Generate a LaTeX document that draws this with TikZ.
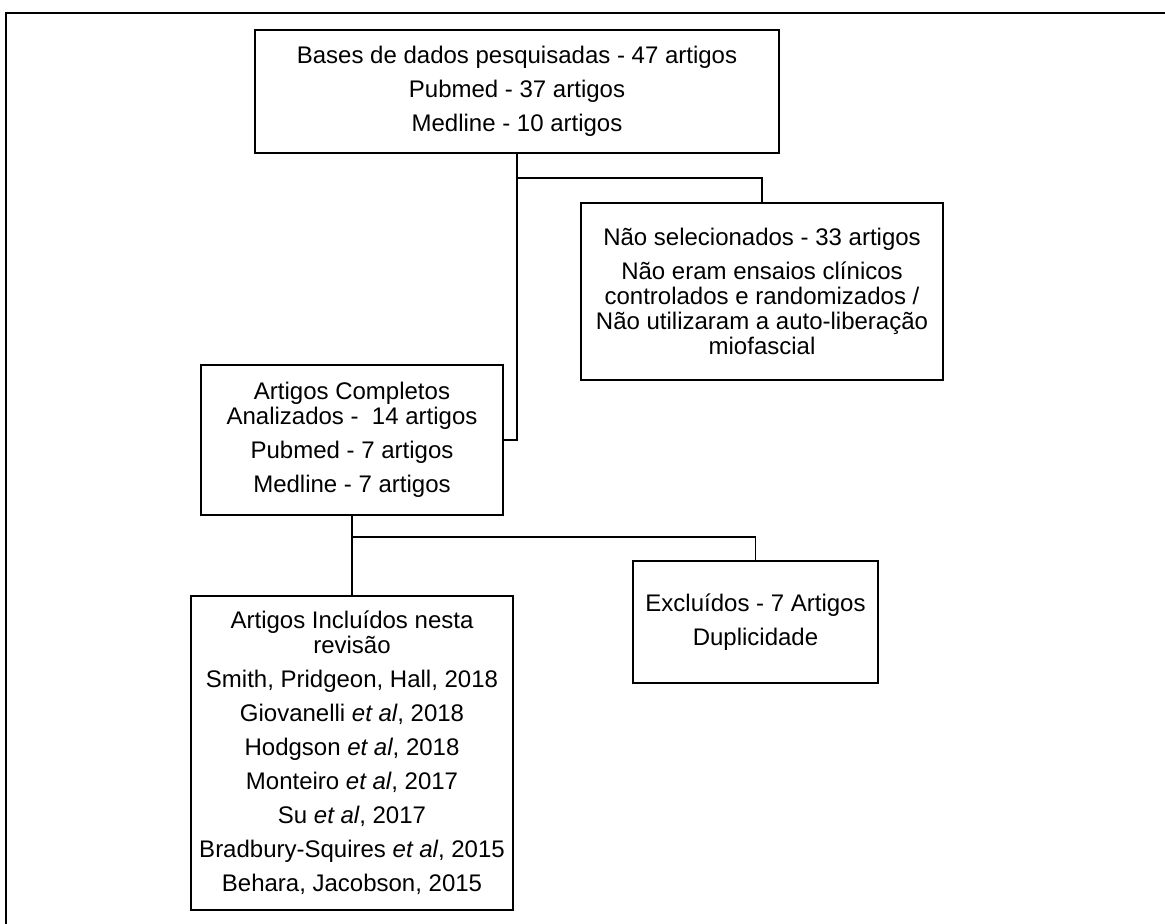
\documentclass[tikz,border=0pt]{standalone}
\usepackage{fontspec}
\setmainfont{Liberation Sans}
\usepackage{tikz}
\usetikzlibrary{positioning}

\begin{document}
\begin{tikzpicture} [
      x = 0.5pt, y = -0.5pt,
      line width = 0.8pt,
      every node/.style = { draw, rectangle, inner sep = 0, align = center, font = \fontsize{12}{12.5}\selectfont }
      ]
      \useasboundingbox (0,0) rectangle (1165,924);
      \draw [line width = 0.6pt] (1165,13) -- (6,13) -- (6,924);

      \node [minimum width = 262pt, minimum height = 61.5pt] (bases) at (517,91.5)
        {Bases de dados pesquisadas - 47 artigos\\[4.5pt] Pubmed - 37 artigos\\[4.5pt] Medline - 10 artigos};
      \node [minimum width = 181pt, minimum height = 88.5pt] (naosel) at (762,291.5)
        {Não selecionados - 33 artigos\\[4.5pt] Não eram ensaios clínicos\\ controlados e randomizados /\\ Não utilizaram a auto-liberação\\ miofascial};
      \node [minimum width = 151pt, minimum height = 75pt] (completos) at (352,440)
        {Artigos Completos\\ Analizados - \ 14 artigos\\[4.5pt] Pubmed - 7 artigos\\[4.5pt] Medline - 7 artigos};
      \node [minimum width = 161pt, minimum height = 157pt] (incluidos) at (352,753)
        {Artigos Incluídos nesta\\ revisão\\[4.5pt] Smith, Pridgeon, Hall, 2018\\[4.5pt] Giovanelli \textit{et al}, 2018\\[4.5pt] Hodgson \textit{et al}, 2018\\[4.5pt] Monteiro \textit{et al}, 2017\\[4.5pt] Su \textit{et al}, 2017\\[4.5pt] Bradbury-Squires \textit{et al}, 2015\\[4.5pt] Behara, Jacobson, 2015};
      \node [minimum width = 122.5pt, minimum height = 61pt] (excluidos) at (755.5,622)
        {Excluídos - 7 Artigos\\[4.5pt] Duplicidade};

      \draw (bases.south) |- (completos.east);
      \draw (bases.south) -- ++(0,24) -| (naosel.north);
      \draw (completos.south) -- (incluidos.north);
      \draw (completos.south) -- ++(0,21) -| (excluidos.north);
\end{tikzpicture}
\end{document}
